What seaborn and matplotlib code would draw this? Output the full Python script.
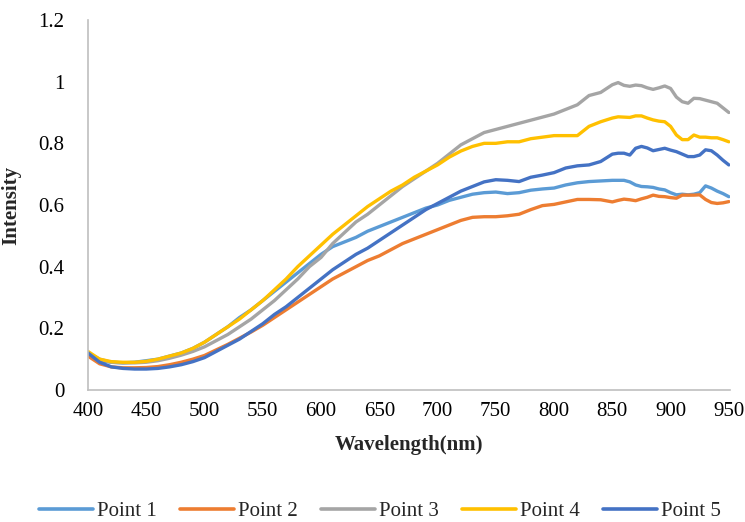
import numpy as np
import pandas as pd
import matplotlib
matplotlib.use("Agg")
import matplotlib.pyplot as plt
import seaborn as sns

wavelength = [400, 410, 420, 430, 440, 450, 460, 470, 480, 490, 500, 510, 520, 530, 540,
              550, 560, 570, 580, 590, 600, 610, 620, 630, 640, 650, 660, 670, 680, 690,
              700, 710, 720, 730, 740, 750, 760, 770, 780, 790, 800, 810, 820, 830, 840,
              850, 855, 860, 865, 870, 875, 880, 885, 890, 895, 900, 905, 910, 915, 920,
              925, 930, 935, 940, 945, 950]

point1 = [.120, .095, .090, .088, .090, .095, .100, .110, .120, .135, .155, .180, .205, .235, .260,
          .290, .320, .350, .380, .410, .440, .465, .480, .495, .515, .530, .545, .560, .575, .590,
          .600, .615, .625, .635, .640, .642, .637, .640, .648, .652, .655, .665, .672, .676, .678,
          .680, .680, .680, .675, .665, .660, .659, .657, .652, .649, .640, .633, .635, .633, .635,
          .640, .662, .655, .645, .637, .627]

point2 = [.110, .085, .075, .072, .072, .073, .076, .082, .090, .100, .112, .130, .148, .168, .188,
          .210, .235, .260, .285, .310, .335, .360, .380, .400, .420, .435, .455, .475, .490, .505,
          .520, .535, .550, .560, .562, .562, .565, .570, .585, .598, .602, .610, .618, .618, .617,
          .610, .615, .619, .617, .614, .620, .625, .632, .628, .627, .624, .622, .632, .632, .632,
          .633, .618, .608, .605, .607, .611]

point3 = [.120, .100, .090, .088, .088, .090, .095, .103, .113, .125, .140, .160, .180, .205, .230,
          .260, .290, .325, .360, .400, .430, .475, .510, .545, .570, .600, .630, .660, .685, .710,
          .735, .765, .795, .815, .835, .845, .855, .865, .875, .885, .895, .910, .925, .955, .965,
          .990, .997, .988, .985, .989, .987, .980, .975, .980, .986, .978, .950, .935, .930, .946,
          .945, .940, .935, .930, .915, .900]

point4 = [.125, .100, .092, .090, .090, .093, .100, .110, .120, .135, .155, .180, .205, .230, .260,
          .290, .325, .360, .400, .435, .470, .505, .535, .565, .595, .620, .645, .665, .690, .710,
          .730, .755, .775, .790, .800, .800, .805, .805, .815, .820, .825, .825, .825, .855, .870,
          .882, .886, .885, .884, .889, .889, .882, .876, .872, .870, .855, .827, .812, .812, .827,
          .820, .820, .818, .818, .812, .805]

point5 = [.120, .090, .075, .070, .068, .068, .070, .075, .082, .092, .105, .125, .145, .165, .190,
          .215, .245, .270, .300, .330, .360, .390, .415, .440, .460, .485, .510, .535, .560, .585,
          .605, .625, .645, .660, .675, .682, .680, .676, .690, .697, .705, .720, .727, .730, .741,
          .765, .768, .768, .762, .784, .790, .785, .776, .780, .784, .778, .773, .765, .757, .757,
          .762, .779, .776, .762, .745, .730]

series_names = ["Point 1", "Point 2", "Point 3", "Point 4", "Point 5"]
series_values = [point1, point2, point3, point4, point5]
colors = ["#5B9BD5", "#ED7D31", "#A5A5A5", "#FFC000", "#4472C4"]
x_ticks = [400, 450, 500, 550, 600, 650, 700, 750, 800, 850, 900, 950]
y_ticks = [0, 0.2, 0.4, 0.6, 0.8, 1.0, 1.2]
y_tick_labels = ["0", "0.2", "0.4", "0.6", "0.8", "1", "1.2"]

df = pd.concat([pd.DataFrame({"Wavelength": wavelength, "Intensity": v, "Series": n})
                for n, v in zip(series_names, series_values)], ignore_index=True)

sns.set_theme(style="white")
plt.rcParams["font.family"] = ["Liberation Serif", "DejaVu Serif"]

fig = plt.figure(figsize=(7.45, 5.22), dpi=100)
ax = fig.add_axes([88/745, 1 - 390/522, (730-88)/745, 370/522])

sns.lineplot(data=df, x="Wavelength", y="Intensity", hue="Series",
             palette=dict(zip(series_names, colors)), estimator=None,
             linewidth=2.4, ax=ax, legend=True)

ax.set_xlim(400, 951)
ax.set_ylim(0, 1.2)
ax.set_xticks(x_ticks)
ax.set_xticklabels([str(t) for t in x_ticks])
ax.set_yticks(y_ticks)
ax.set_yticklabels(y_tick_labels)
ax.tick_params(axis="both", length=0, labelsize=15, colors="black")
ax.tick_params(axis="x", pad=9)
ax.tick_params(axis="y", pad=17)

for s in ["top", "right"]:
    ax.spines[s].set_visible(False)
for s in ["left", "bottom"]:
    ax.spines[s].set_color("#BFBFBF")
    ax.spines[s].set_linewidth(1.2)

ax.set_xlabel("Wavelength(nm)", fontsize=15, fontweight="bold", labelpad=10)
ax.set_ylabel("Intensity", fontsize=15, fontweight="bold", labelpad=12)
ax.grid(False)

handles, labels = ax.get_legend_handles_labels()
for h in handles:
    h.set_linewidth(2.6)
ax.legend(handles, labels, loc="center", bbox_to_anchor=(380/745, 1 - 511/522),
          bbox_transform=fig.transFigure, ncol=5, frameon=False, fontsize=15,
          handlelength=2.6, handletextpad=0.2, columnspacing=1.1, borderaxespad=0,
          borderpad=0.1)

fig.savefig("out.png", dpi=100)
